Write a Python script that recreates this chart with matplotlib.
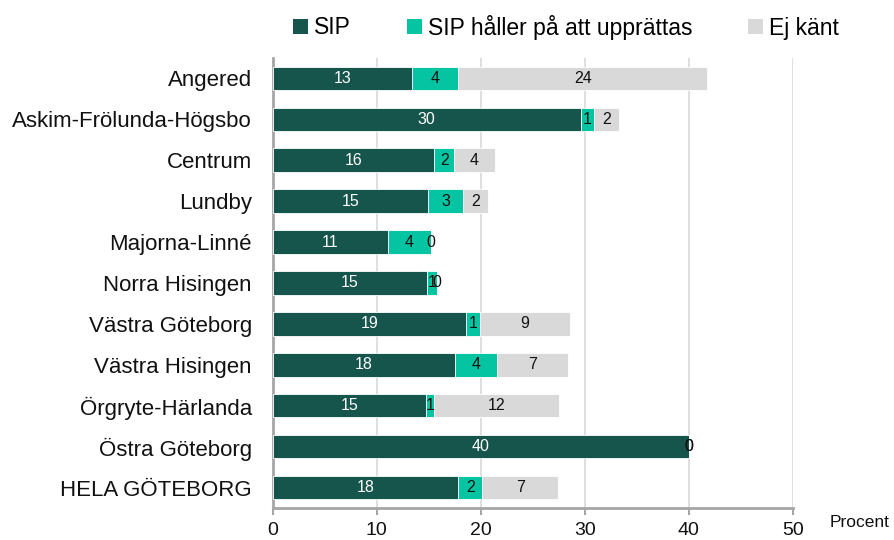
import matplotlib.pyplot as plt
from matplotlib.patches import Patch
import numpy as np

plt.rcParams["font.family"] = ["Liberation Sans", "DejaVu Sans"]

# Stadsdelar, uppifrån och ned
areas = ["Angered", "Askim-Frölunda-Högsbo", "Centrum", "Lundby", "Majorna-Linné",
         "Norra Hisingen", "Västra Göteborg", "Västra Hisingen", "Örgryte-Härlanda",
         "Östra Göteborg", "HELA GÖTEBORG"]

sip = [13.4, 29.6, 15.55, 14.9, 11.1, 14.8, 18.55, 17.55, 14.7, 40.0, 17.8]
sip_pending = [4.45, 1.25, 1.9, 3.4, 4.1, 1.0, 1.4, 4.05, 0.85, 0.0, 2.35]
unknown = [23.9, 2.45, 3.9, 2.35, 0.0, 0.0, 8.6, 6.8, 12.0, 0.0, 7.25]

series_names = ["SIP", "SIP håller på att upprättas", "Ej känt"]
colors = ["#16554C", "#05C4A1", "#D9D9D9"]
text_colors = ["white", "#111111", "#111111"]

fig = plt.figure(figsize=(8.94, 5.4), dpi=100)
ax = fig.add_axes([0.305, 0.059, 0.582, 0.834])

y = np.arange(len(areas))
left = np.zeros(len(areas))
for vals, name, col, tcol in zip([sip, sip_pending, unknown], series_names, colors, text_colors):
    vals = np.array(vals)
    ax.barh(y, vals, left=left, height=0.57, color=col, edgecolor="white",
            linewidth=0.6, label=name, zorder=3)
    for yi, l, v in zip(y, left, vals):
        ax.text(l + v / 2, yi, f"{v:.0f}", ha="center", va="center",
                color=tcol, fontsize=11.5, zorder=4)
    left = left + vals

ax.set_xlim(0, 50)
ax.set_ylim(len(areas) - 0.5, -0.5)
ax.set_xticks([0, 10, 20, 30, 40, 50])
ax.set_yticks(y)
ax.set_yticklabels(areas)
ax.tick_params(axis="y", length=0, pad=15, labelsize=16, labelcolor="#111111")
ax.tick_params(axis="x", length=5, width=1.5, color="#A6A6A6", pad=5,
               labelsize=14, labelcolor="#111111")
ax.grid(axis="x", color="#D9D9D9", linewidth=1.2, zorder=0)
ax.set_axisbelow(True)
for s in ["top", "right"]:
    ax.spines[s].set_visible(False)
for s in ["left", "bottom"]:
    ax.spines[s].set_color("#A6A6A6")
    ax.spines[s].set_linewidth(2)

fig.text(0.928, 0.019, "Procent", ha="left", va="bottom", fontsize=12.5, color="#111111")

handles = [Patch(facecolor=c, label=n) for c, n in zip(colors, series_names)]
fig.legend(handles=handles, loc="center left", bbox_to_anchor=(0.318, 0.95), ncol=3,
           frameon=False, fontsize=16.5, handlelength=0.65, handleheight=0.65,
           handletextpad=0.25, columnspacing=2.45, borderaxespad=0)

fig.savefig("out.png", dpi=100)
